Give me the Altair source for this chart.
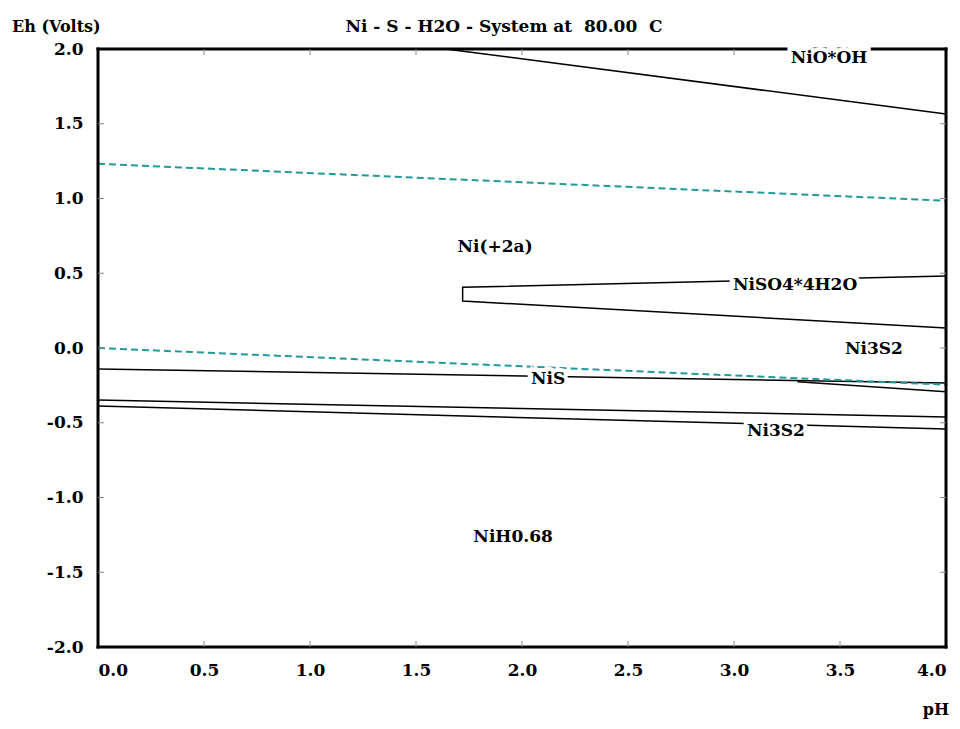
import altair as alt
import pandas as pd

# ---- data ----
# solid boundary lines (pH, Eh) per segment
nioh_ph = [1.64, 4.0]
nioh_eh = [2.0, 1.565]
niso4_ph = [4.0, 1.72, 1.72, 4.0]
niso4_eh = [0.482, 0.406, 0.314, 0.134]
nis_ph = [0.0, 4.0]
nis_eh = [-0.14, -0.234]
branch_ph = [3.3, 4.0]
branch_eh = [-0.225, -0.292]
low1_ph = [0.0, 4.0]
low1_eh = [-0.348, -0.461]
low2_ph = [0.0, 4.0]
low2_eh = [-0.388, -0.542]

# water stability (dashed)
o2_ph = [0.0, 4.0]
o2_eh = [1.232, 0.985]
h2_ph = [0.0, 4.0]
h2_eh = [0.0, -0.245]

# region labels
label_text = ["NiO*OH", "Ni(+2a)", "NiSO4*4H2O", "Ni3S2", "NiS", "Ni3S2", "NiH0.68"]
label_ph = [3.448, 1.873, 3.288, 3.66, 2.123, 3.198, 1.958]
label_eh = [1.94, 0.676, 0.421, -0.007, -0.207, -0.555, -1.264]

x_ticks = [0.0, 0.5, 1.0, 1.5, 2.0, 2.5, 3.0, 3.5, 4.0]
y_ticks = [-2.0, -1.5, -1.0, -0.5, 0.0, 0.5, 1.0, 1.5, 2.0]

title_text = "Ni - S - H2O - System at\u00a0\u00a080.00\u00a0\u00a0C"

W, H = 848, 598
FONT = "DejaVu Serif"
FS = 17

def seg_df(name, ph, eh):
    return pd.DataFrame({"seg": name, "pH": ph, "Eh": eh, "o": list(range(len(ph)))})

solid = pd.concat([
    seg_df("nioh", nioh_ph, nioh_eh),
    seg_df("niso4", niso4_ph, niso4_eh),
    seg_df("nis", nis_ph, nis_eh),
    seg_df("branch", branch_ph, branch_eh),
    seg_df("low1", low1_ph, low1_eh),
    seg_df("low2", low2_ph, low2_eh),
])
dashed = pd.concat([seg_df("o2", o2_ph, o2_eh), seg_df("h2", h2_ph, h2_eh)])
labels = pd.DataFrame({"t": label_text, "pH": label_ph, "Eh": label_eh})

xs = alt.Scale(domain=[0, 4], nice=False, zero=False)
ys = alt.Scale(domain=[-2, 2], nice=False, zero=False)

label_expr = "(datum.value < 0 ? '-' : '') + format(abs(datum.value), '.1f')"
axis_common = dict(domain=False, ticks=False, grid=False, title=None, labelExpr=label_expr,
                   labelFont=FONT, labelFontWeight="bold", labelFontSize=FS,
                   labelColor="black")
X = alt.X("pH:Q", scale=xs, axis=alt.Axis(values=x_ticks, labelPadding=15, **axis_common))
Y = alt.Y("Eh:Q", scale=ys, axis=alt.Axis(values=y_ticks, labelPadding=15, **axis_common))

base_lines = alt.Chart(solid).mark_line(color="black", strokeWidth=1.5).encode(
    x=X, y=Y, detail="seg:N", order="o:Q")
dash_lines = alt.Chart(dashed).mark_line(color="#22999a", strokeWidth=2, strokeDash=[7, 4]).encode(
    x="pH:Q", y="Eh:Q", detail="seg:N", order="o:Q")

# border
border_h = pd.DataFrame({"Eh": [-2.0, 2.0], "x0": [0.0, 0.0], "x1": [4.0, 4.0]})
border_v = pd.DataFrame({"pH": [0.0, 4.0], "y0": [-2.0, -2.0], "y1": [2.0, 2.0]})
bh = alt.Chart(border_h).mark_rule(color="black", strokeWidth=3, strokeCap="square").encode(
    y="Eh:Q", x=alt.X("x0:Q"), x2="x1:Q")
bv = alt.Chart(border_v).mark_rule(color="black", strokeWidth=3, strokeCap="square").encode(
    x="pH:Q", y=alt.Y("y0:Q"), y2="y1:Q")

# inward ticks
xt = pd.DataFrame({"pH": x_ticks[1:-1]})
yt = pd.DataFrame({"Eh": y_ticks[1:-1]})
tick_color = "#888888"
t_top = alt.Chart(xt).mark_rule(color=tick_color, strokeWidth=1).encode(
    x="pH:Q", y=alt.value(0), y2=alt.value(6))
t_bot = alt.Chart(xt).mark_rule(color=tick_color, strokeWidth=1).encode(
    x="pH:Q", y=alt.value(H), y2=alt.value(H - 6))
t_left = alt.Chart(yt).mark_rule(color=tick_color, strokeWidth=1).encode(
    y="Eh:Q", x=alt.value(0), x2=alt.value(6))
t_right = alt.Chart(yt).mark_rule(color=tick_color, strokeWidth=1).encode(
    y="Eh:Q", x=alt.value(W), x2=alt.value(W - 6))

halo = alt.Chart(labels).mark_text(font=FONT, fontWeight="bold", fontSize=FS,
                                   stroke="white", strokeWidth=8, color="white",
                                   baseline="middle").encode(
    x="pH:Q", y="Eh:Q", text="t:N")
txt = alt.Chart(labels).mark_text(font=FONT, fontWeight="bold", fontSize=FS,
                                  color="black", baseline="middle").encode(
    x="pH:Q", y="Eh:Q", text="t:N")

hdr = pd.DataFrame({"t": [title_text]})
title = alt.Chart(hdr).mark_text(font=FONT, fontWeight="bold", fontSize=FS, color="black",
                                 align="center", baseline="alphabetic").encode(
    text="t:N", x=alt.value(406), y=alt.value(-17))
ylab = alt.Chart(pd.DataFrame({"t": ["Eh (Volts)"]})).mark_text(
    font=FONT, fontWeight="bold", fontSize=16, color="black", align="left",
    baseline="alphabetic").encode(text="t:N", x=alt.value(-86), y=alt.value(-17))
xlab = alt.Chart(pd.DataFrame({"t": ["pH"]})).mark_text(
    font=FONT, fontWeight="bold", fontSize=16, color="black", align="right",
    baseline="alphabetic").encode(text="t:N", x=alt.value(851), y=alt.value(666))

chart = alt.layer(
    base_lines, dash_lines, bh, bv, t_top, t_bot, t_left, t_right, halo, txt, title, ylab, xlab
).properties(
    width=W, height=H,
    autosize=alt.AutoSizeParams(type="none"),
    padding={"left": 90, "top": 41, "right": 6, "bottom": 72},
).configure_view(stroke=None)

chart.save("out.html", embed_options={"renderer": "svg", "actions": False})
